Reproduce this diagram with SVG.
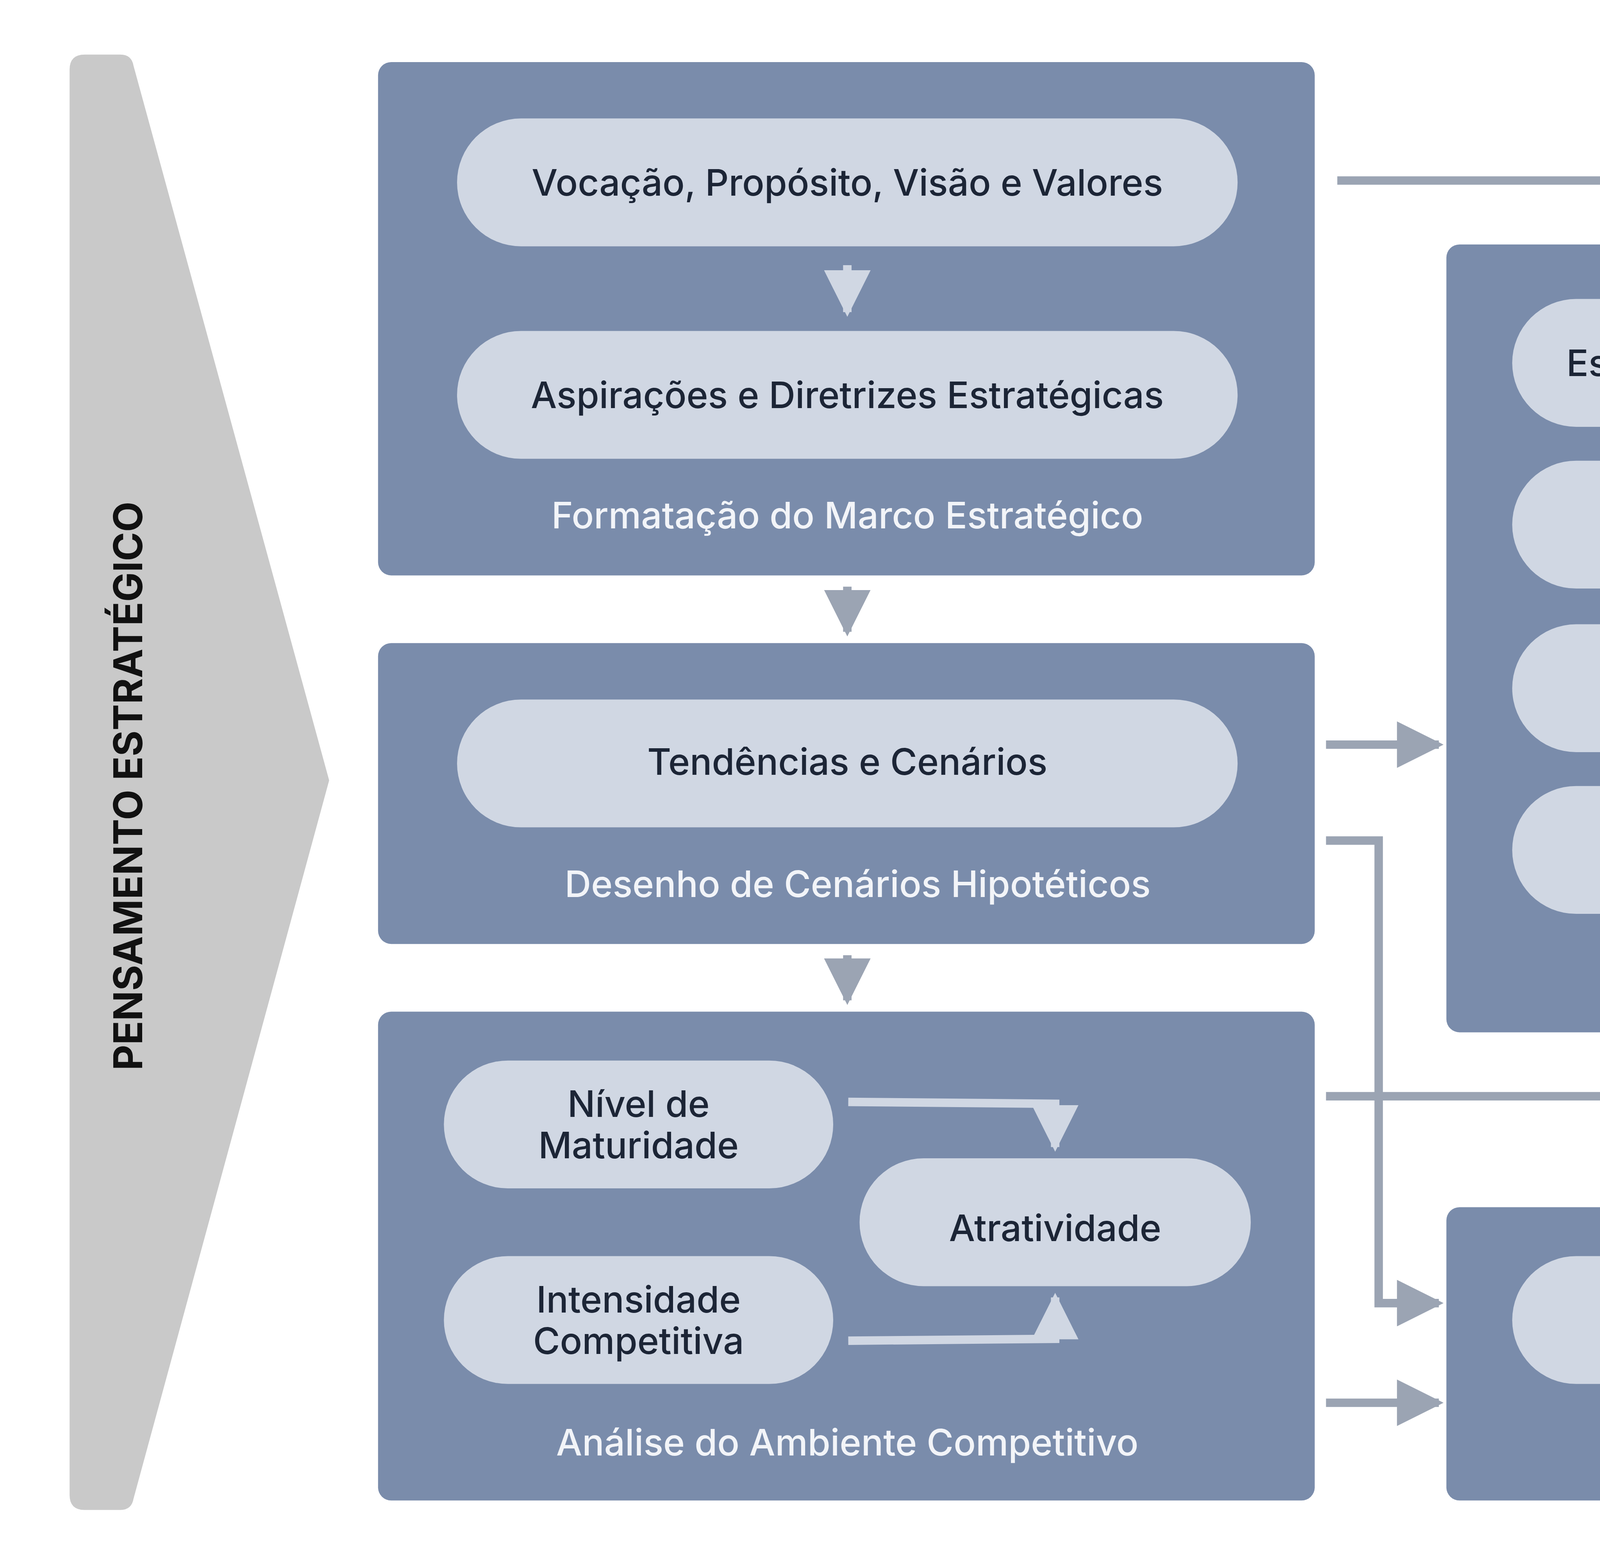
<svg xmlns="http://www.w3.org/2000/svg" width="7549" height="4010" viewBox="0 0 7549 4010">
<defs>
<style>
.box{fill:#7a8cab}
.pill{fill:#d0d7e3}
.pt{font-family:Inter,"Noto Sans",sans-serif;font-size:19.5px;font-weight:500;fill:#1c2536;text-anchor:middle;dominant-baseline:central}
.lb{font-family:Inter,"Noto Sans",sans-serif;font-size:19.5px;font-weight:500;fill:#f2f4f8;text-anchor:middle;dominant-baseline:central}
.c{fill:none;stroke:#9ba4b3;stroke-width:4.5}
.ci{fill:none;stroke:#d0d7e3;stroke-width:4.5}
</style>
<marker id="ah" viewBox="0 0 10 10" refX="9" refY="5" markerWidth="5.5" markerHeight="5.5" orient="auto" markerUnits="strokeWidth"><path d="M0,0 L10,5 L0,10 Z" fill="#9ba4b3"/></marker>
<marker id="ahi" viewBox="0 0 10 10" refX="9" refY="5" markerWidth="5.5" markerHeight="5.5" orient="auto" markerUnits="strokeWidth"><path d="M0,0 L10,5 L0,10 Z" fill="#d0d7e3"/></marker>
</defs>
<rect width="7549" height="4010" fill="#ffffff"/>
<g transform="scale(4.815)">
<g id="pensamento">
<path d="M45,29 H64 Q70,29 71,35 L175,415 L71,797 Q70,803 64,803 H45 Q37,803 37,795 V37 Q37,29 45,29 Z" fill="#c9c9c9"/>
<text transform="translate(68,418) rotate(-90)" style="font-family:Inter,'Noto Sans',sans-serif;font-size:21px;font-weight:700;fill:#111;text-anchor:middle;dominant-baseline:central">PENSAMENTO ESTRATÉGICO</text>
</g>
<g id="marco">
<rect class="box" x="201" y="33" width="498" height="273" rx="7"/>
<rect class="pill" x="243" y="63" width="415" height="68" rx="34"/>
<text class="pt" x="450.5" y="97">Vocação, Propósito, Visão e Valores</text>
<rect class="pill" x="243" y="176" width="415" height="68" rx="34"/>
<text class="pt" x="450.5" y="210">Aspirações e Diretrizes Estratégicas</text>
<text class="lb" x="450.5" y="274">Formatação do Marco Estratégico</text>
<line class="ci" x1="450.5" y1="141" x2="450.5" y2="166" marker-end="url(#ahi)"/>
</g>
<g id="cenarios">
<rect class="box" x="201" y="342" width="498" height="160" rx="7"/>
<rect class="pill" x="243" y="372" width="415" height="68" rx="34"/>
<text class="pt" x="450.5" y="405">Tendências e Cenários</text>
<text class="lb" x="456" y="470">Desenho de Cenários Hipotéticos</text>
</g>
<g id="ambiente">
<rect class="box" x="201" y="538" width="498" height="260" rx="7"/>
<rect class="pill" x="236" y="564" width="207" height="68" rx="34"/>
<text class="pt" x="339.5" y="587">Nível de</text>
<text class="pt" x="339.5" y="609">Maturidade</text>
<rect class="pill" x="236" y="668" width="207" height="68" rx="34"/>
<text class="pt" x="339.5" y="691">Intensidade</text>
<text class="pt" x="339.5" y="713">Competitiva</text>
<rect class="pill" x="457" y="616" width="208" height="68" rx="34"/>
<text class="pt" x="561" y="653">Atratividade</text>
<text class="lb" x="450.5" y="767">Análise do Ambiente Competitivo</text>
</g>
<g id="construcao">
<rect class="box" x="769" y="130" width="415" height="419" rx="7"/>
<rect class="pill" x="804" y="159" width="345" height="68" rx="34"/>
<text class="pt" x="976.5" y="193">Escolha do Tipo de Estratégica</text>
<rect class="pill" x="804" y="245" width="345" height="68" rx="34"/>
<text class="pt" x="976.5" y="279">Modelo de Negócio</text>
<rect class="pill" x="804" y="332" width="345" height="68" rx="34"/>
<text class="pt" x="976.5" y="366">Objetivos Estratégicos</text>
<rect class="pill" x="804" y="418" width="345" height="68" rx="34"/>
<text class="pt" x="976.5" y="452">Mapa Estratégico</text>
<text class="lb" x="976.5" y="517">Construção da Estratégia</text>
</g>
<g id="swot">
<rect class="box" x="769" y="642" width="415" height="156" rx="7"/>
<rect class="pill" x="804" y="668" width="345" height="68" rx="34"/>
<text class="pt" x="976.5" y="702">Matriz SWOT</text>
<text class="lb" x="976.5" y="767">Construção da Estratégia</text>
</g>
<g id="execucao">
<rect x="1254" y="332" width="276" height="156" rx="5" fill="#8a4a57"/>
<rect x="1288" y="358" width="207" height="68" rx="34" fill="#d9c9d0"/>
<text class="pt" x="1391.5" y="392">EXECUÇÃO</text>
<text class="lb" x="1391.5" y="456">Fazendo Acontecer</text>
</g>
<g id="connectors">
<line class="c" x1="450.5" y1="312" x2="450.5" y2="336" marker-end="url(#ah)"/>
<line class="c" x1="450.5" y1="508" x2="450.5" y2="532" marker-end="url(#ah)"/>
<polyline class="c" points="711,96 976,96 976,125" marker-end="url(#ah)"/>
<line class="c" x1="705" y1="396" x2="765" y2="396" marker-end="url(#ah)"/>
<polyline class="c" points="705,447 733,447 733,693 765,693" marker-end="url(#ah)"/>
<polyline class="c" points="705,583 952,583 952,556" marker-end="url(#ah)"/>
<line class="c" x1="1002" y1="636" x2="1002" y2="556" marker-end="url(#ah)"/>
<line class="c" x1="705" y1="746" x2="765" y2="746" marker-end="url(#ah)"/>
<line class="c" x1="1189" y1="410" x2="1249" y2="410" marker-end="url(#ah)"/>
<polyline class="ci" points="451,586 561,587 561,610" marker-end="url(#ahi)"/>
<polyline class="ci" points="451,713 561,712 561,690" marker-end="url(#ahi)"/>
</g>
</g>
</svg>
